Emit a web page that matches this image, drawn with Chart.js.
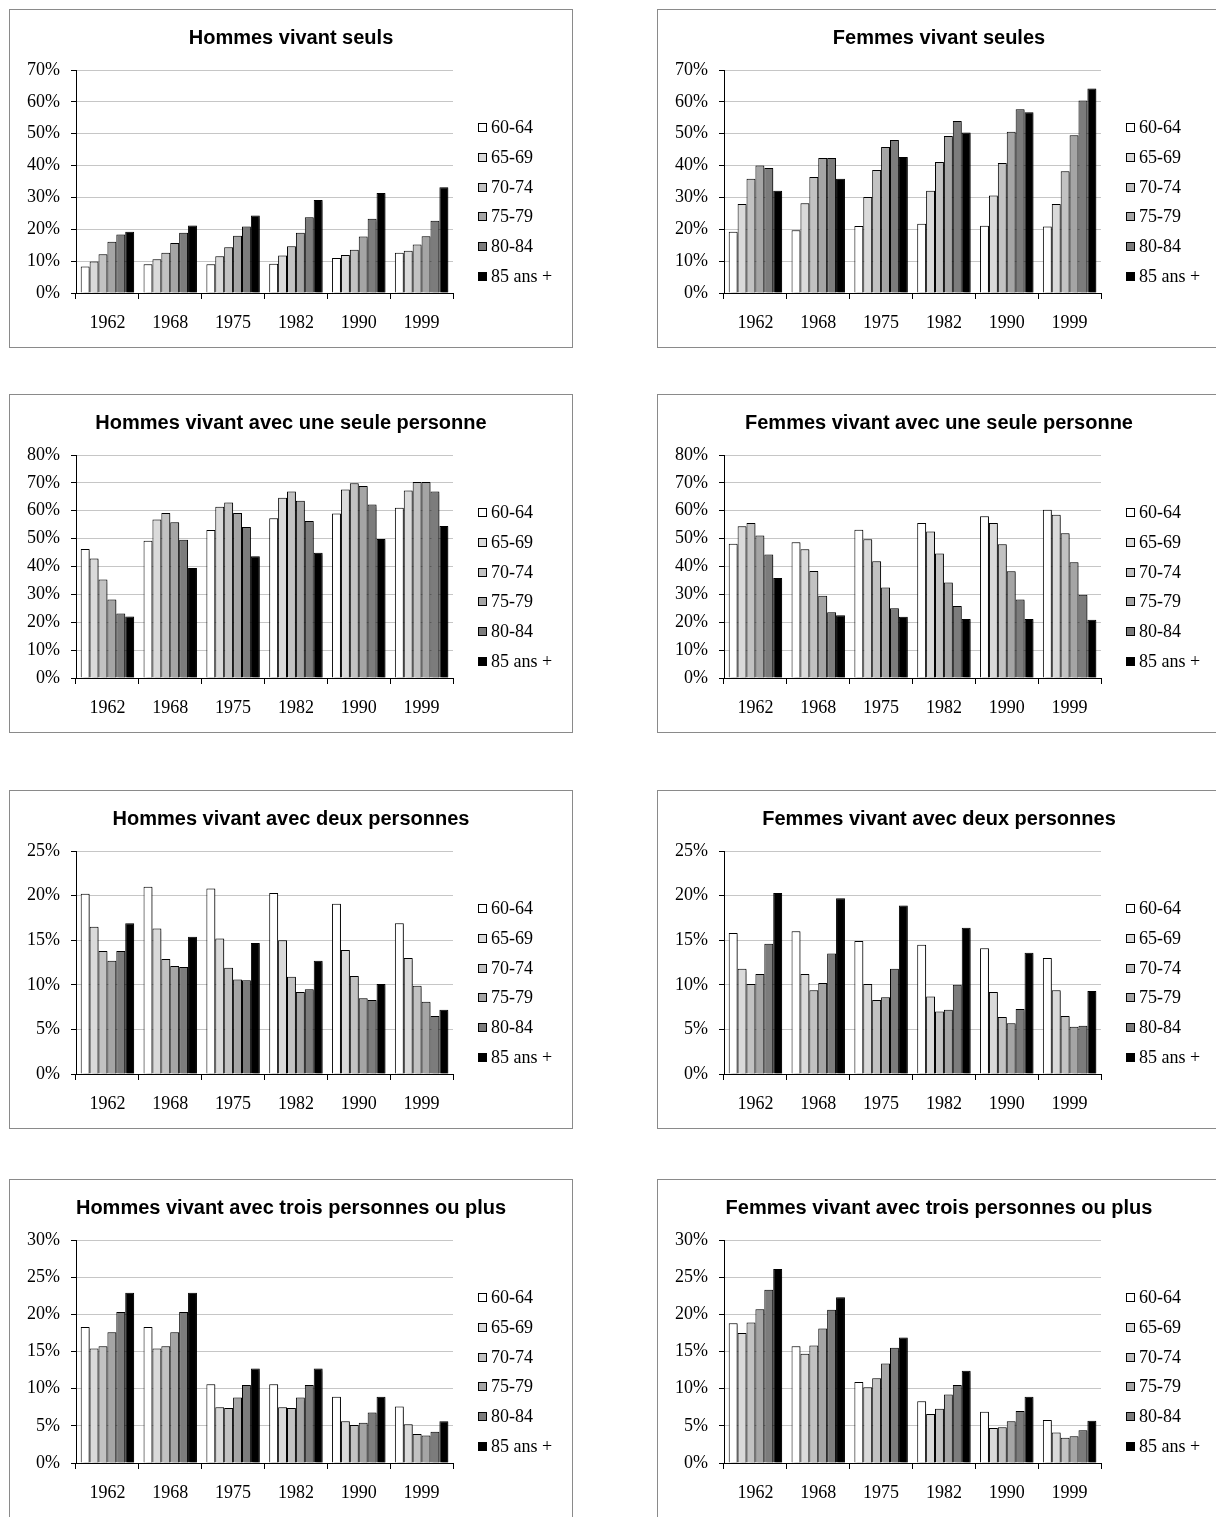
<!DOCTYPE html>
<html>
<head>
<meta charset="utf-8">
<script src="https://cdn.jsdelivr.net/npm/chart.js@4.4.0/dist/chart.umd.min.js"></script>
<style>
html, body { margin: 0; padding: 0; background: #fff; overflow: hidden; }
body { width: 1216px; height: 1517px; position: relative; }
.panel { position: absolute; width: 564px; height: 339px; box-sizing: border-box; border: 1px solid #8a8a8a; background: #fff; }
.panel canvas { position: absolute; left: 0; top: 0; }
</style>
</head>
<body>
<div class="panel" style="left:9px;top:9px"><canvas id="c1" width="562" height="337"></canvas></div>
<div class="panel" style="left:657px;top:9px"><canvas id="c2" width="562" height="337"></canvas></div>
<div class="panel" style="left:9px;top:394px"><canvas id="c3" width="562" height="337"></canvas></div>
<div class="panel" style="left:657px;top:394px"><canvas id="c4" width="562" height="337"></canvas></div>
<div class="panel" style="left:9px;top:790px"><canvas id="c5" width="562" height="337"></canvas></div>
<div class="panel" style="left:657px;top:790px"><canvas id="c6" width="562" height="337"></canvas></div>
<div class="panel" style="left:9px;top:1179px"><canvas id="c7" width="562" height="337"></canvas></div>
<div class="panel" style="left:657px;top:1179px"><canvas id="c8" width="562" height="337"></canvas></div>
<script>
// years and age groups
const years = ['1962', '1968', '1975', '1982', '1990', '1999'];
const ageGroups = ['60-64', '65-69', '70-74', '75-79', '80-84', '85 ans +'];
const greys = ['#ffffff', '#dadada', '#c2c2c2', '#a5a5a5', '#7c7c7c', '#000000'];

// one row per age group, one value per year (%)
const hommesSeuls = [
  [8.3, 9.0, 9.0, 9.2, 11.0, 12.6],
  [9.9, 10.6, 11.5, 11.8, 11.9, 13.3],
  [12.2, 12.6, 14.4, 14.7, 13.6, 15.2],
  [16.1, 15.7, 18.0, 18.9, 17.7, 17.8],
  [18.4, 18.9, 20.9, 23.8, 23.3, 22.7],
  [19.2, 21.2, 24.3, 29.2, 31.4, 33.2]
];
const femmesSeules = [
  [19.2, 19.7, 21.0, 21.7, 21.1, 20.9],
  [27.9, 28.2, 30.1, 32.1, 30.6, 27.9],
  [35.9, 36.4, 38.6, 41.1, 40.8, 38.2],
  [40.0, 42.4, 45.8, 49.3, 50.6, 49.5],
  [39.2, 42.4, 48.0, 54.0, 57.7, 60.4],
  [32.1, 35.9, 42.7, 50.4, 56.7, 64.2]
];
const hommesUne = [
  [46.3, 49.2, 53.1, 57.3, 59.0, 61.1],
  [42.9, 56.9, 61.4, 64.7, 67.6, 67.3],
  [35.3, 59.2, 63.0, 66.9, 69.9, 70.3],
  [28.2, 55.9, 59.2, 63.6, 68.9, 70.3],
  [23.1, 49.6, 54.2, 56.3, 62.2, 66.9],
  [22.1, 39.5, 43.7, 44.9, 49.9, 54.5]
];
const femmesUne = [
  [48.2, 48.7, 53.2, 55.6, 58.0, 60.4],
  [54.4, 46.2, 49.8, 52.6, 55.6, 58.6],
  [55.6, 38.4, 41.9, 44.7, 48.0, 51.9],
  [51.1, 29.5, 32.5, 34.3, 38.3, 41.5],
  [44.3, 23.6, 25.0, 25.8, 28.2, 29.9],
  [35.9, 22.5, 22.0, 21.2, 21.2, 20.9]
];
const hommesDeux = [
  [20.2, 21.0, 20.8, 20.3, 19.1, 16.9],
  [16.5, 16.3, 15.2, 15.0, 13.9, 13.0],
  [13.8, 12.9, 11.9, 10.9, 11.0, 9.9],
  [12.7, 12.1, 10.6, 9.2, 8.5, 8.1],
  [13.8, 12.0, 10.5, 9.5, 8.3, 6.5],
  [16.9, 15.4, 14.7, 12.7, 10.1, 7.2]
];
const femmesDeux = [
  [15.8, 16.0, 14.9, 14.5, 14.1, 13.0],
  [11.8, 11.2, 10.1, 8.7, 9.2, 9.4],
  [10.1, 9.4, 8.3, 7.0, 6.4, 6.5],
  [11.2, 10.2, 8.6, 7.2, 5.7, 5.3],
  [14.6, 13.5, 11.8, 10.0, 7.3, 5.4],
  [20.3, 19.7, 18.9, 16.4, 13.6, 9.3]
];
const hommesTrois = [
  [18.3, 18.3, 10.6, 10.6, 8.9, 7.6],
  [15.4, 15.4, 7.5, 7.5, 5.6, 5.2],
  [15.7, 15.7, 7.4, 7.4, 5.1, 3.9],
  [17.6, 17.6, 8.8, 8.8, 5.4, 3.7],
  [20.3, 20.3, 10.5, 10.5, 6.8, 4.2],
  [22.9, 22.9, 12.7, 12.7, 8.9, 5.6]
];
const femmesTrois = [
  [18.8, 15.7, 10.9, 8.3, 6.9, 5.8],
  [17.5, 14.7, 10.2, 6.6, 4.7, 4.1],
  [18.9, 15.8, 11.4, 7.3, 4.8, 3.4],
  [20.7, 18.1, 13.4, 9.2, 5.6, 3.6],
  [23.3, 20.6, 15.5, 10.5, 7.0, 4.4],
  [26.1, 22.3, 16.9, 12.4, 8.9, 5.7]
];

// little shadow to the right of the bars, like the office chart
const barShadow = {
  id: 'barShadow',
  beforeDatasetsDraw(chart) {
    const ctx = chart.ctx;
    ctx.save();
    ctx.shadowColor = 'rgba(0,0,0,0.45)';
    ctx.shadowOffsetX = 2;
    ctx.shadowOffsetY = 1;
    ctx.shadowBlur = 2;
  },
  afterDatasetsDraw(chart) {
    chart.ctx.restore();
  }
};

// title centred on the whole frame + legend on the right
const frameText = {
  id: 'frameText',
  afterDraw(chart, args, opts) {
    const ctx = chart.ctx;
    ctx.save();
    ctx.fillStyle = '#000';
    ctx.font = 'bold 20px "Liberation Sans"';
    ctx.textAlign = 'center';
    ctx.textBaseline = 'middle';
    ctx.fillText(opts.text, chart.width / 2, 28);

    const x = 468, top = 117, step = 29.8;
    ctx.font = '18px "Liberation Serif"';
    ctx.textAlign = 'left';
    chart.data.datasets.forEach((ds, i) => {
      const y = Math.round(top + i * step);
      ctx.fillStyle = ds.backgroundColor;
      ctx.fillRect(x, y - 4, 9, 9);
      ctx.strokeStyle = '#000';
      ctx.lineWidth = 1;
      ctx.strokeRect(x + 0.5, y - 3.5, 8, 8);
      ctx.fillStyle = '#000';
      ctx.fillText(ds.label, x + 13, y + 1);
    });
    ctx.restore();
  }
};

function makeChart(id, title, rows, yMax, yStep) {
  new Chart(document.getElementById(id), {
    type: 'bar',
    data: {
      labels: years,
      datasets: rows.map((vals, i) => ({
        label: ageGroups[i],
        data: vals,
        backgroundColor: greys[i],
        borderColor: '#000',
        borderWidth: 1,
        categoryPercentage: 0.85,
        barPercentage: 1.0
      }))
    },
    options: {
      responsive: false,
      animation: false,
      layout: { padding: { left: 0, right: 119, top: 60, bottom: 0 } },
      plugins: {
        legend: { display: false },
        tooltip: { enabled: false },
        title: { display: false },
        frameText: { text: title }
      },
      scales: {
        x: {
          grid: { offset: true, drawOnChartArea: false, color: '#000', tickLength: 6 },
          border: { color: '#000' },
          ticks: { color: '#000', padding: 13, font: { family: 'Liberation Serif', size: 18 } },
          afterFit(scale) { scale.height = 54; }
        },
        y: {
          min: 0,
          max: yMax,
          grid: {
            color: c => (c.tick && c.tick.value === 0) ? 'rgba(0,0,0,0)' : '#c6c6c6',
            tickColor: '#000',
            tickLength: 5
          },
          border: { color: '#000' },
          ticks: {
            stepSize: yStep,
            color: '#000',
            padding: 11,
            font: { family: 'Liberation Serif', size: 18 },
            callback: v => v + '%'
          },
          afterFit(scale) { scale.width = 66; }
        }
      }
    },
    plugins: [barShadow, frameText]
  });
}

makeChart('c1', 'Hommes vivant seuls', hommesSeuls, 70, 10);
makeChart('c2', 'Femmes vivant seules', femmesSeules, 70, 10);
makeChart('c3', 'Hommes vivant avec une seule personne', hommesUne, 80, 10);
makeChart('c4', 'Femmes vivant avec une seule personne', femmesUne, 80, 10);
makeChart('c5', 'Hommes vivant avec deux personnes', hommesDeux, 25, 5);
makeChart('c6', 'Femmes vivant avec deux personnes', femmesDeux, 25, 5);
makeChart('c7', 'Hommes vivant avec trois personnes ou plus', hommesTrois, 30, 5);
makeChart('c8', 'Femmes vivant avec trois personnes ou plus', femmesTrois, 30, 5);
</script>
</body>
</html>
